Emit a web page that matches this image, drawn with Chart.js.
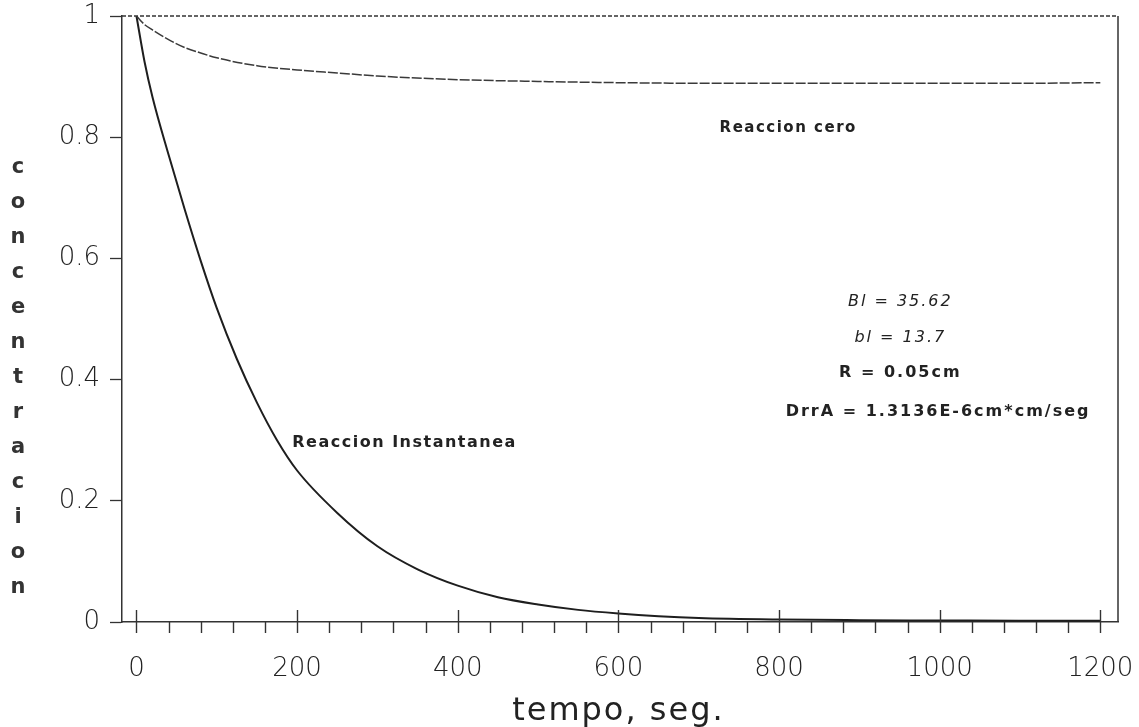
<!DOCTYPE html>
<html>
<head>
<meta charset="utf-8">
<script src="https://cdn.jsdelivr.net/npm/chart.js@4/dist/chart.umd.min.js"></script>
<style>
  html, body { margin: 0; padding: 0; background: #fff; }
  canvas { display: block; }
</style>
</head>
<body>
<canvas id="conc" width="1139" height="727"></canvas>
<script>
// curva "Reaccion instantanea"
const tiempoInst = [0, 10, 20, 40, 60, 80, 100, 125, 150, 175, 200, 250, 300, 350, 400, 450, 500, 550, 600, 650, 700, 800, 900, 1000, 1100, 1200];
const concInst = [1, 0.925, 0.866, 0.771, 0.681, 0.596, 0.518, 0.434, 0.362, 0.3, 0.25, 0.18, 0.125, 0.087, 0.06, 0.041, 0.029, 0.02, 0.014, 0.0095, 0.0065, 0.004, 0.003, 0.0025, 0.002, 0.002];

// curva "Reaccion cero"
const tiempoCero = [0, 10, 20, 40, 60, 80, 100, 150, 200, 250, 300, 400, 500, 600, 700, 800, 900, 1000, 1100, 1200];
const concCero = [1, 0.986, 0.977, 0.961, 0.948, 0.939, 0.931, 0.918, 0.911, 0.906, 0.901, 0.895, 0.892, 0.89, 0.889, 0.889, 0.889, 0.889, 0.889, 0.89];

const xMajor = [0, 200, 400, 600, 800, 1000, 1200];
const xMinorStep = 40;
const yTicks = [0, 0.2, 0.4, 0.6, 0.8, 1];

const yTitle = 'concentracion';
const xTitle = 'tempo, seg.';

const notas = [
  { text: 'Reaccion cero', x: 726, y: 0.815, align: 'left', font: 'bold 15px "DejaVu Sans"', sp: 1.5 },
  { text: 'Reaccion Instantanea', x: 194, y: 0.295, align: 'left', font: 'bold 16px "DejaVu Sans"', sp: 1.5 },
  { text: 'Bl = 35.62', x: 951, y: 0.528, align: 'center', font: 'italic 16px "DejaVu Sans"', sp: 2 },
  { text: 'bl = 13.7', x: 951, y: 0.469, align: 'center', font: 'italic 16px "DejaVu Sans"', sp: 2 },
  { text: 'R = 0.05cm', x: 951, y: 0.411, align: 'center', font: 'bold 16px "DejaVu Sans"', sp: 2 },
  { text: 'DrrA = 1.3136E-6cm*cm/seg', x: 998, y: 0.347, align: 'center', font: 'bold 16px "DejaVu Sans"', sp: 2 }
];

const xTicks = [];
for (let v = 0; v <= 1200; v += xMinorStep) xTicks.push(v);

const toXY = (xs, ys) => xs.map((x, i) => ({ x, y: ys[i] }));

const marco = {
  id: 'marco',
  afterDraw(chart) {
    const { ctx, chartArea: ca } = chart;
    const xs = chart.scales.x, ys = chart.scales.y;
    ctx.save();
    ctx.strokeStyle = '#333';
    // linea superior punteada
    ctx.lineWidth = 1.3;
    ctx.setLineDash([4, 2]);
    const yTop = ys.getPixelForValue(1);
    ctx.beginPath();
    ctx.moveTo(ca.left, yTop);
    ctx.lineTo(ca.right, yTop);
    ctx.stroke();
    ctx.setLineDash([]);
    // borde derecho
    ctx.lineWidth = 1.5;
    ctx.beginPath();
    ctx.moveTo(ca.right, ca.top);
    ctx.lineTo(ca.right, ca.bottom);
    ctx.stroke();
    // marcas del eje x
    ctx.lineWidth = 1.4;
    xTicks.forEach(v => {
      const px = Math.round(xs.getPixelForValue(v)) + 0.5;
      const major = xMajor.includes(v);
      ctx.beginPath();
      ctx.moveTo(px, major ? ca.bottom - 12 : ca.bottom);
      ctx.lineTo(px, ca.bottom + 11);
      ctx.stroke();
    });
    // titulo y, letras apiladas
    ctx.fillStyle = '#333';
    ctx.font = 'bold 21px "DejaVu Sans"';
    ctx.textAlign = 'center';
    ctx.textBaseline = 'middle';
    yTitle.split('').forEach((ch, i) => ctx.fillText(ch, 18, 168 + i * 35));
    // titulo x
    ctx.font = '32px "DejaVu Sans"';
    ctx.fillStyle = '#222';
    ctx.letterSpacing = '2px';
    ctx.textBaseline = 'alphabetic';
    ctx.fillText(xTitle, xs.getPixelForValue(600), 720);
    // notas
    ctx.textBaseline = 'middle';
    ctx.fillStyle = '#222';
    notas.forEach(n => {
      ctx.font = n.font;
      ctx.letterSpacing = n.sp + 'px';
      ctx.textAlign = n.align;
      ctx.fillText(n.text, xs.getPixelForValue(n.x), ys.getPixelForValue(n.y));
    });
    ctx.letterSpacing = '0px';
    ctx.restore();
  }
};

new Chart(document.getElementById('conc').getContext('2d'), {
  type: 'line',
  data: {
    datasets: [
      { label: 'Reaccion cero', data: toXY(tiempoCero, concCero), borderColor: '#3a3a3a', borderWidth: 1.5, borderDash: [10, 2], pointRadius: 0, cubicInterpolationMode: 'monotone' },
      { label: 'Reaccion Instantanea', data: toXY(tiempoInst, concInst), borderColor: '#1e1e1e', borderWidth: 2, pointRadius: 0, cubicInterpolationMode: 'monotone' }
    ]
  },
  options: {
    responsive: false,
    animation: false,
    layout: { padding: { top: 16, right: 21, left: 0, bottom: 0 } },
    plugins: { legend: { display: false }, tooltip: { enabled: false } },
    scales: {
      x: {
        type: 'linear',
        min: -18,
        max: 1222,
        afterBuildTicks: s => { s.ticks = xTicks.map(v => ({ value: v })); },
        afterFit: s => { s.height = 105; s.paddingLeft = 0; s.paddingRight = 0; },
        grid: { display: false },
        border: { display: true, color: '#333', width: 1.5 },
        ticks: {
          autoSkip: false,
          maxRotation: 0,
          padding: 24,
          color: '#222',
          font: { family: '"DejaVu Sans"', size: 26, weight: 300 },
          callback: v => xMajor.includes(v) ? String(v) : ''
        }
      },
      y: {
        min: 0,
        max: 1,
        afterBuildTicks: s => { s.ticks = yTicks.map(v => ({ value: v })); },
        afterFit: s => { s.width = 122; s.paddingTop = 0; s.paddingBottom = 0; },
        grid: { drawOnChartArea: false, tickLength: 12, tickColor: '#333', tickWidth: 1.3 },
        border: { display: true, color: '#333', width: 1.5 },
        ticks: {
          padding: 10,
          color: '#222',
          font: { family: '"DejaVu Sans"', size: 26, weight: 300 },
          callback: v => String(v)
        }
      }
    }
  },
  plugins: [marco]
});
</script>
</body>
</html>
